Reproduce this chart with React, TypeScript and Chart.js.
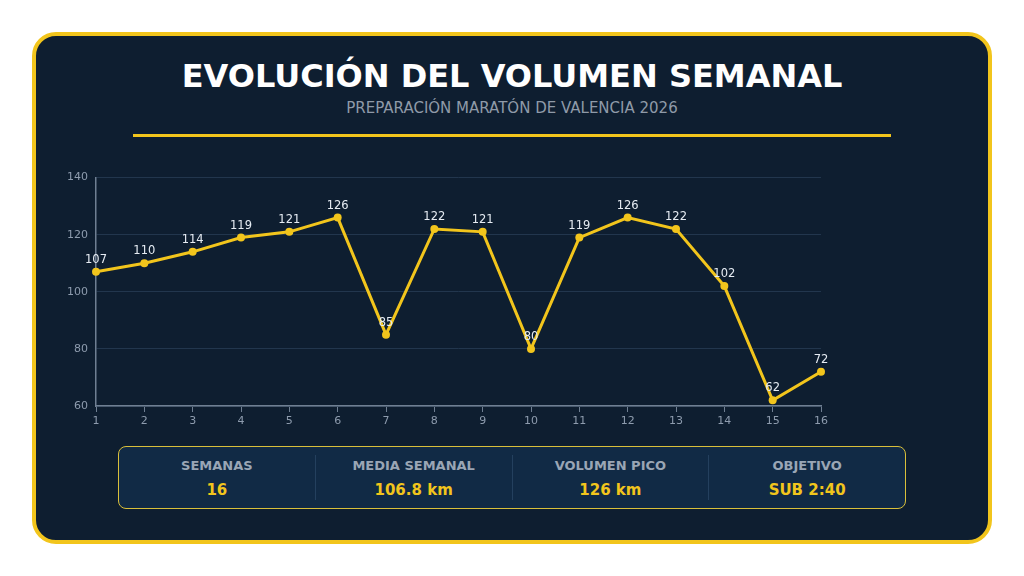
import React, { useEffect, useRef } from "react";
import { Chart, registerables } from "chart.js";

Chart.register(...registerables);

const weeks: string[] = ["1", "2", "3", "4", "5", "6", "7", "8", "9", "10", "11", "12", "13", "14", "15", "16"];
const kmPerWeek: number[] = [107, 110, 114, 119, 121, 126, 85, 122, 121, 80, 119, 126, 122, 102, 62, 72];
const yTicks: number[] = [60, 80, 100, 120, 140];

const statLabels: string[] = ["SEMANAS", "MEDIA SEMANAL", "VOLUMEN PICO", "OBJETIVO"];
const statValues: string[] = ["16", "106.8 km", "126 km", "SUB 2:40"];

const YELLOW = "#f2c51c";
const FONT = "'DejaVu Sans', sans-serif";

const valueLabels = {
  id: "valueLabels",
  afterDatasetsDraw(chart: any) {
    const ctx = chart.ctx;
    const meta = chart.getDatasetMeta(0);
    const data = chart.data.datasets[0].data;
    ctx.save();
    ctx.font = `11.5px ${FONT}`;
    ctx.fillStyle = "#e6ecf3";
    ctx.textAlign = "center";
    ctx.textBaseline = "middle";
    meta.data.forEach((pt: any, i: number) => {
      ctx.fillText(String(data[i]), pt.x, pt.y - 12);
    });
    ctx.restore();
  },
};

export default function App() {
  const canvasRef = useRef<HTMLCanvasElement | null>(null);

  useEffect(() => {
    if (!canvasRef.current) return;
    const chart = new Chart(canvasRef.current, {
      type: "line",
      data: {
        labels: weeks,
        datasets: [
          {
            data: kmPerWeek,
            borderColor: YELLOW,
            backgroundColor: YELLOW,
            borderWidth: 3,
            pointRadius: 4,
            pointBackgroundColor: YELLOW,
            pointBorderWidth: 0,
            tension: 0,
          },
        ],
      },
      options: {
        animation: false,
        responsive: false,
        maintainAspectRatio: false,
        layout: { padding: { top: 8, right: 35, left: 0, bottom: 0 } },
        plugins: { legend: { display: false }, tooltip: { enabled: false } },
        scales: {
          x: {
            offset: false,
            grid: {
              display: true,
              drawOnChartArea: false,
              drawTicks: true,
              tickLength: 6,
              color: "#6f7f92",
            },
            border: { color: "#6f7f92", width: 1.5 },
            ticks: { color: "#8e9cae", font: { family: FONT, size: 11 }, padding: 3, maxRotation: 0 },
            afterFit: (s: any) => {
              s.height = 29;
            },
          },
          y: {
            min: 60,
            max: 140,
            afterBuildTicks: (s: any) => {
              s.ticks = yTicks.map((v) => ({ value: v }));
            },
            grid: { color: "#22364d", lineWidth: 1, drawTicks: false },
            border: { color: "#6f7f92", width: 1.5 },
            ticks: { color: "#8e9cae", font: { family: FONT, size: 11 }, padding: 8 },
            afterFit: (s: any) => {
              s.width = 40;
            },
          },
        },
      },
      plugins: [valueLabels],
    });
    return () => chart.destroy();
  }, []);

  return (
    <div style={{ position: "relative", width: 1024, height: 576, margin: -8, background: "#ffffff", fontFamily: FONT }}>
      <div
        style={{
          position: "absolute",
          left: 32,
          top: 32,
          width: 960,
          height: 512,
          boxSizing: "border-box",
          border: `4px solid ${YELLOW}`,
          borderRadius: 24,
          background: "#0e1e30",
        }}
      />
      <div
        style={{
          position: "absolute",
          left: 0,
          width: 1024,
          top: 56,
          textAlign: "center",
          color: "#ffffff",
          fontWeight: "bold",
          fontSize: 32,
          lineHeight: "40px",
        }}
      >
        EVOLUCIÓN DEL VOLUMEN SEMANAL
      </div>
      <div
        style={{
          position: "absolute",
          left: 0,
          width: 1024,
          top: 99,
          textAlign: "center",
          color: "#8f9aa8",
          fontSize: 15,
          lineHeight: "18px",
        }}
      >
        PREPARACIÓN MARATÓN DE VALENCIA 2026
      </div>
      <div style={{ position: "absolute", left: 133, top: 134, width: 758, height: 3, background: YELLOW }} />
      <canvas
        ref={canvasRef}
        width={800}
        height={272}
        style={{ position: "absolute", left: 56, top: 163, width: 800, height: 272 }}
      />
      <div
        style={{
          position: "absolute",
          left: 118,
          top: 446,
          width: 788,
          height: 63,
          boxSizing: "border-box",
          border: "1.5px solid #d9bf3a",
          borderRadius: 8,
          background: "#112a45",
          display: "flex",
          alignItems: "center",
        }}
      >
        {statLabels.map((label, i) => (
          <div
            key={label}
            style={{
              flex: 1,
              height: 45,
              display: "flex",
              flexDirection: "column",
              alignItems: "center",
              justifyContent: "center",
              paddingTop: 3,
              boxSizing: "border-box",
              borderLeft: i > 0 ? "1px solid #24405e" : "none",
            }}
          >
            <div style={{ color: "#9aa6b5", fontWeight: "bold", fontSize: 13, lineHeight: "16px" }}>{label}</div>
            <div style={{ color: YELLOW, fontWeight: "bold", fontSize: 15, lineHeight: "20px", marginTop: 6 }}>
              {statValues[i]}
            </div>
          </div>
        ))}
      </div>
    </div>
  );
}
